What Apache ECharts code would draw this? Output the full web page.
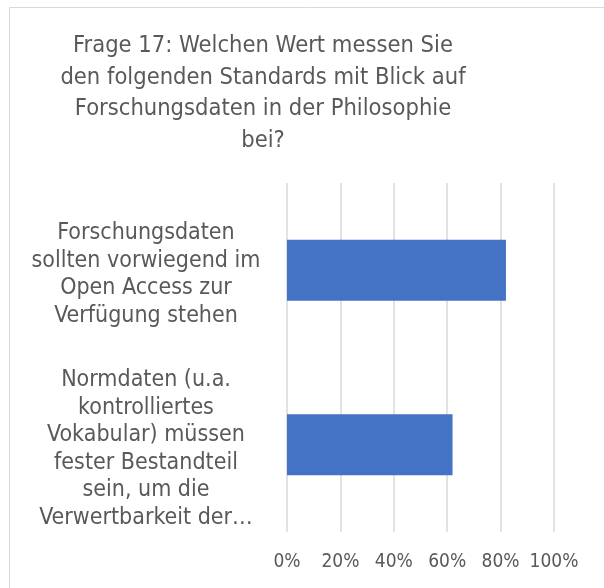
<!DOCTYPE html>
<html>
<head>
<meta charset="utf-8">
<script src="https://cdn.jsdelivr.net/npm/echarts@6/dist/echarts.min.js"></script>
<style>
  html, body { margin: 0; padding: 0; background: #fff; }
  #box { width: 604px; height: 588px; }
</style>
</head>
<body>
<div id="box"></div>
<script>
// data
var titleText = 'Frage 17: Welchen Wert messen Sie\nden folgenden Standards mit Blick auf\nForschungsdaten in der Philosophie\nbei?';
var categories = [
    'Forschungsdaten\nsollten vorwiegend im\nOpen Access zur\nVerfügung stehen',
    'Normdaten (u.a.\nkontrolliertes\nVokabular) müssen\nfester Bestandteil\nsein, um die\nVerwertbarkeit der…'
];
var values = [82, 62];
var xTicks = [0, 20, 40, 60, 80, 100];

var font = '"DejaVu Sans Condensed", "DejaVu Sans", sans-serif';

window.onload = function () {
    var charts = echarts.init(document.getElementById('box'));

    var option = {
        animation: false,
        graphic: [
            {
                type: 'rect',
                shape: { x: 9.5, y: 7.5, width: 700, height: 700 },
                style: { fill: 'none', stroke: '#d9d9d9', lineWidth: 1 }
            },
            {
                type: 'text',
                x: 263,
                y: 30,
                style: {
                    text: titleText,
                    textAlign: 'center',
                    fill: '#595959',
                    font: '23.5px ' + font,
                    lineHeight: 31.7
                }
            }
        ],
        grid: {
            left: 287,
            right: 50,
            top: 183,
            bottom: 56
        },
        xAxis: {
            type: 'value',
            min: xTicks[0],
            max: xTicks[xTicks.length - 1],
            interval: 20,
            axisLine: { show: false },
            axisTick: { show: false },
            splitLine: { lineStyle: { color: '#d9d9d9', width: 1.5 } },
            axisLabel: {
                formatter: '{value}%',
                color: '#595959',
                fontSize: 19,
                fontFamily: font,
                margin: 21
            }
        },
        yAxis: {
            type: 'category',
            inverse: true,
            data: categories,
            axisLine: { show: false },
            axisTick: { show: false },
            axisLabel: {
                align: 'center',
                margin: 141,
                color: '#595959',
                fontSize: 23,
                fontFamily: font,
                lineHeight: 27.5,
                // kleine Leerzeile oben, schiebt den Block etwas nach unten
                formatter: function (v) {
                    return '{s| }\n' + v;
                },
                rich: {
                    s: { fontSize: 1, lineHeight: 9 }
                }
            }
        },
        series: [
            {
                type: 'bar',
                data: values,
                barCategoryGap: '65%',
                itemStyle: { color: '#4472c4' }
            }
        ]
    };

    charts.setOption(option);
};
</script>
</body>
</html>
